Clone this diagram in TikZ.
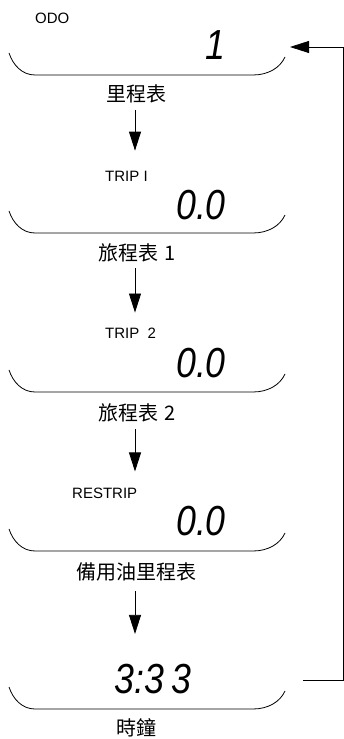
\documentclass[tikz,border=0pt]{standalone}
\usepackage{fontspec}
\setmainfont{Liberation Sans}
\newfontfamily\cjk{Noto Sans CJK TC}
\newfontfamily\lcdfont[FakeStretch=0.85]{Liberation Sans}
\usetikzlibrary{arrows.meta}

\begin{document}
\begin{tikzpicture}[x=1pt, y=1pt,
    flow/.style={-{Triangle[width=12pt,length=19pt]}, line width=0.8pt},
    lcd/.style={font=\lcdfont\itshape\fontsize{42}{42}\selectfont, inner sep=0pt},
    mode/.style={font=\fontsize{15}{15}\selectfont, anchor=west, inner sep=0pt},
    caption/.style={font=\cjk\fontsize{20}{20}\selectfont, inner sep=0pt}]
    \useasboundingbox (0, 0) rectangle (344, 739);
    % display windows
    \foreach \b in {664, 506, 347, 188, 30}
	\draw[line width=0.8pt] (9, \b+22) .. controls (13, \b+10) and (22, \b) .. (35, \b)
	-- (253, \b) .. controls (268, \b) and (280, \b+7) .. (285, \b+18);
    % odometer
    \node[mode] (odo) at (35, 721) {ODO};
    \node[lcd, anchor=east] (odoval) at (226, 694) {1};
    \node[caption] (odolab) at (136, 645) {里程表};
    % trip 1
    \node[mode] (trip1) at (105, 563) {TRIP I};
    \node[lcd, anchor=east] (trip1val) at (226, 534) {0.0};
    \node[caption] (trip1lab) at (137, 486) {旅程表\hspace{6pt}1};
    % trip 2
    \node[mode] (trip2) at (105, 406) {TRIP\ \ 2};
    \node[lcd, anchor=east] (trip2val) at (226, 376) {0.0};
    \node[caption] (trip2lab) at (137, 326) {旅程表\hspace{6pt}2};
    % reserve
    \node[mode] (restrip) at (72, 246) {RESTRIP};
    \node[lcd, anchor=east] (restripval) at (226, 218) {0.0};
    \node[caption] (restriplab) at (136, 167) {備用油里程表};
    % clock
    \node[lcd] (clockval) at (153, 60) {3:3\,3};
    \node[caption] (clocklab) at (136, 11) {時鐘};
    % steps
    \coordinate (axis) at (135, 0);
    \draw[flow, shorten <=7pt, shorten >=20pt] (odolab.south -| axis) -- (trip1.north -| axis);
    \draw[flow, shorten <=6pt, shorten >=15pt] (trip1lab.south -| axis) -- (trip2.north -| axis);
    \draw[flow, shorten <=7pt, shorten >=16pt] (trip2lab.south -| axis) -- (restrip.north -| axis);
    \draw[flow, shorten <=10pt, shorten >=30pt] (restriplab.south -| axis) -- (clockval.north -| axis);
    % back to the odometer
    \coordinate (back) at (303, 59);
    \coordinate (home) at (290, 692);
    \draw[flow] (back) -- ++(40, 0) |- (home);
\end{tikzpicture}
\end{document}
